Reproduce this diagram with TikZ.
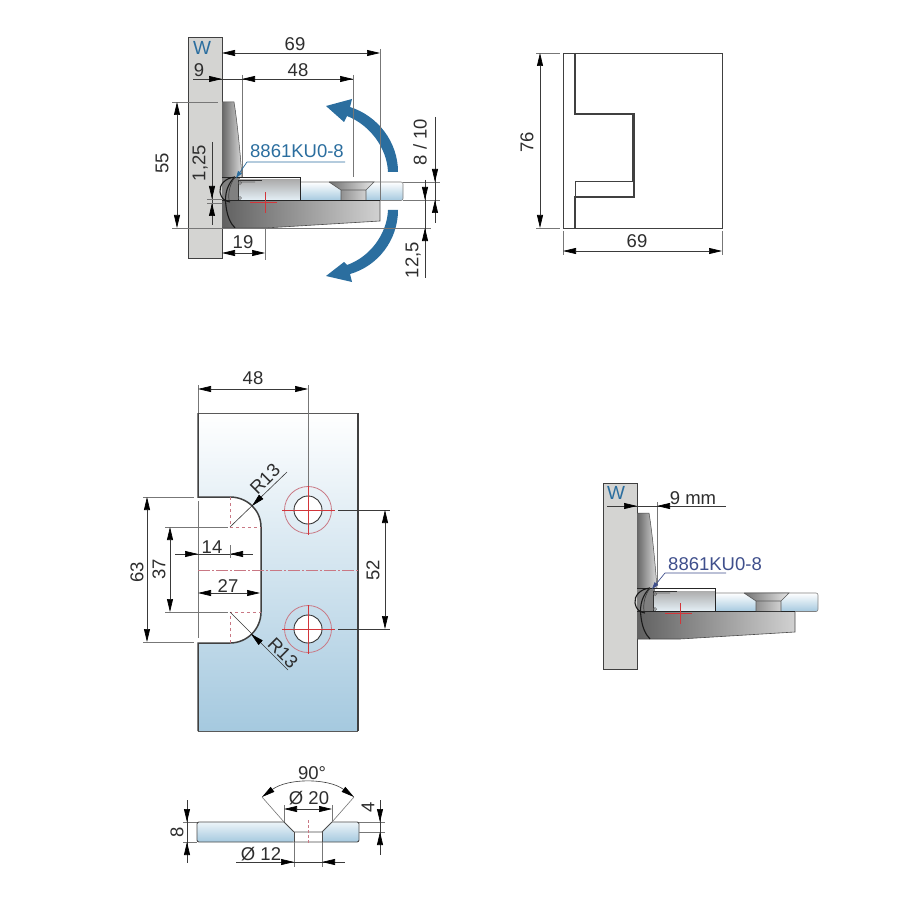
\documentclass[tikz,border=0pt]{standalone}
\usepackage{fontspec}
\setmainfont{Liberation Sans}
\usetikzlibrary{arrows.meta}
\definecolor{inkc}{HTML}{2E2E2E}
\definecolor{dimc}{HTML}{3A3A3A}
\definecolor{extc}{HTML}{777777}
\definecolor{arrowblue}{HTML}{2B6E9F}
\definecolor{codeblue}{HTML}{3F4F8C}
\definecolor{wallc}{HTML}{D4D4D2}
\definecolor{redc}{HTML}{D2363A}
\definecolor{pinkc}{HTML}{C97884}
\definecolor{iceb}{HTML}{A5C9DF}
\tikzset{
  tip/.tip={Stealth[length=13pt,width=6pt,inset=0pt,black]},
  dimline/.style={draw=dimc,line width=.6pt,{tip}-{tip}},
  rline/.style={draw=dimc,line width=.6pt,-{tip}},
  extline/.style={draw=extc,line width=.6pt},
  lbl/.style={text=inkc,inner sep=0pt,font=\fontsize{18.5}{21}\selectfont},
  codeA/.style={text=arrowblue,inner sep=0pt,font=\fontsize{18.5}{21}\selectfont},
  codeB/.style={text=codeblue,inner sep=0pt,font=\fontsize{18.5}{21}\selectfont},
  wlbl/.style={text=arrowblue,inner sep=0pt,font=\fontsize{19}{21}\selectfont},
  wallbox/.style={fill=wallc,draw=black!75,line width=.8pt},
  redthin/.style={draw=redc,line width=.6pt},
  pinkthin/.style={draw=pinkc,line width=.8pt},
  bracket/.pic={
    % upper wall leaf
    \shade[left color=black!60,right color=black!14]
      (222,102) -- (234,102) .. controls (237,120) and (240,150) .. (242,177) -- (222,177) -- cycle;
    \draw[black!70,line width=.5pt] (222,102) -- (234,102) .. controls (237,120) and (240,150) .. (242,177);
    % lower body
    \shade[left color=black!62,right color=black!18]
      (222,200) -- (380,200) -- (380,221) -- (265,228) -- (222,228) -- cycle;
    \draw[black!70,line width=.6pt] (380,200) -- (380,221) -- (265,228) -- (222,228);
    \fill[black!50] (222,177) rectangle (240,200);
    % glass
    \shade[top color=white,bottom color=iceb,rounded corners=2pt]
      (240,182) rectangle (403,200.5);
    \draw[black!50,line width=.6pt,rounded corners=2pt] (240,182) rectangle (403,200.5);
    % clamp
    \shade[top color=black!32,bottom color=white!70!iceb] (239,180) rectangle (300,200);
    \draw[black!85,line width=.9pt] (222,177.5) -- (300,177.5) -- (300,200);
    \draw[black!85,line width=1.1pt] (222,200.5) -- (380,200.5);
    \draw[black!80,line width=.8pt] (262,180.5) -- (238,180.5) -- (238,200);
    \draw[black!60,line width=.7pt] (255,182) -- (240,182) (240,183) circle (1.5) (240,198) circle (1.5);
    % screw
    \shade[left color=black!55,right color=black!10]
      (329,182) -- (374,182) -- (366,190) -- (366,200) -- (341,200) -- (341,190) -- cycle;
    \draw[black!65,line width=.6pt] (329,182) -- (374,182) -- (366,190) -- (366,200) (329,182) -- (341,190) -- (341,200) (341,190) -- (366,190);
    % hinge
    \draw[black!90,line width=1.1pt] (235,177) .. controls (225,178) and (219,185) .. (220,192) .. controls (221,198) and (224,201) .. (230,202);
    \draw[black!90,line width=1.1pt] (235,177) .. controls (228,183) and (224,194) .. (226,206) .. controls (227,215) and (230,223) .. (235,228);
    \draw[black!75,line width=.7pt] (235,177) .. controls (230,184) and (228,192) .. (229,200);
    % centre mark
    \draw[redthin] (250,202) -- (277,202) (265,192) -- (265,213);
  }
}
\begin{document}
\begin{tikzpicture}[x=1pt,y=-1pt]
\useasboundingbox (0,0) rectangle (900,901);
\fill[white] (0,0) rectangle (900,901);

% ---------- top left ----------
\draw[wallbox] (188,37) rectangle (222,258);
\pic at (0,0) {bracket};
\node[wlbl] (w1) at (202,48) {W};
% blue arrows
\fill[arrowblue] (398,172) .. controls (398,142) and (378,116) .. (350,107) -- (352,99) -- (326,106) -- (344,122) -- (347,116) .. controls (370,125) and (387,148) .. (388,172) -- cycle;
\fill[arrowblue] (398,210) .. controls (398,240) and (378,266) .. (350,274) -- (352,282) -- (326,276) -- (344,262) -- (347,265) .. controls (370,257) and (387,234) .. (388,210) -- cycle;
% dims
\draw[extline] (380,49) -- (380,200);
\draw[dimline] (222,53) -- (380,53);
\node[lbl] (d69a) at (295,44) {69};
\draw[extline] (242,75) -- (242,177);
\draw[extline] (353,75) -- (353,177);
\draw[dimc,line width=.6pt] (193,79) -- (353,79);
\draw[rline] (205,79) -- (222,79);
\draw[rline] (260,79) -- (242,79);
\draw[rline] (335,79) -- (353,79);
\node[lbl] (d9a) at (199,70) {9};
\node[lbl] (d48a) at (298,70) {48};
\draw[extline] (172,102) -- (218,102);
\draw[extline] (172,228) -- (222,228);
\draw[dimline] (177,102) -- (177,228);
\node[lbl,rotate=90] (d55) at (162,163) {55};
\draw[dimc,line width=.6pt] (212,142) -- (212,225);
\draw[rline] (212,186) -- (212,199);
\draw[rline] (212,216) -- (212,203);
\draw[extline] (207,199) -- (222,199);
\draw[extline] (207,203) -- (222,203);
\node[lbl,rotate=90] (d125) at (200,163) {1,25};
\draw[extline] (265,228) -- (265,260);
\draw[dimline] (222,253) -- (265,253);
\node[lbl] (d19) at (243,242) {19};
\draw[extline] (403,182) -- (440,182);
\draw[extline] (403,200) -- (440,200);
\draw[extline] (222,228) -- (431,228);
\draw[dimc,line width=.6pt] (435,117) -- (435,223);
\draw[rline] (435,168) -- (435,182);
\draw[rline] (435,214) -- (435,200);
\node[lbl,rotate=90] (d810) at (420,142) {8 / 10};
\draw[dimc,line width=.6pt] (425,180) -- (425,278);
\draw[rline] (425,186) -- (425,200);
\draw[rline] (425,242) -- (425,228);
\node[lbl,rotate=90] (d125b) at (413,260) {12,5};
\node[codeA] (codea) at (297,151) {8861KU0-8};
\draw[arrowblue,line width=.7pt,-{Stealth[length=7pt,width=4.5pt,inset=0pt]}] (345,162) -- (247,162) -- (236,178);

% ---------- top right ----------
\draw[black!75,line width=.9pt] (563,53) rectangle (722,228);
\draw[black!75,line width=1.1pt] (575,53) -- (575,114) -- (634,114) -- (634,197) -- (575,197) -- (575,228);
\draw[black!75,line width=.8pt] (575,197) -- (575,181) -- (632,181) -- (632,114);
\draw[extline] (536,53) -- (560,53);
\draw[extline] (536,228) -- (560,228);
\draw[dimline] (540,53) -- (540,228);
\node[lbl,rotate=90] (d76) at (527,142) {76};
\draw[extline] (563,231) -- (563,255);
\draw[extline] (722,231) -- (722,255);
\draw[dimline] (563,251) -- (722,251);
\node[lbl] (d69b) at (637,241) {69};

% ---------- plate ----------
\shade[top color=white,bottom color=iceb]
  (198,413) -- (358,413) -- (358,731) -- (198,731) -- (198,643) -- (230,643)
  .. controls (247,643) and (261,629) .. (261,612) -- (261,527)
  .. controls (261,510) and (247,497) .. (230,497) -- (198,497) -- cycle;
\draw[black!65,line width=.8pt] (198,413) -- (358,413) (198,731) -- (358,731);
\draw[black!75,line width=1.5pt] (198,413) -- (198,497) -- (230,497)
  .. controls (247,497) and (261,510) .. (261,527) -- (261,612)
  .. controls (261,629) and (247,643) .. (230,643) -- (198,643) -- (198,731);
\draw[black!75,line width=1.5pt] (358,413) -- (358,731);
\draw[extline] (198,501) -- (198,638);
\draw[pinkthin,dash pattern=on 12pt off 2pt on 2pt off 2pt] (198,570) -- (358,570);
\draw[pinkthin,dashed] (230,497) -- (230,527) -- (261,527);
\draw[pinkthin,dashed] (230,643) -- (230,612) -- (261,612);
\foreach \cy/\nm in {510/a,629/b}{
  \fill[white] (308,\cy) circle (14);
  \draw[black!80,line width=.9pt] (308,\cy) circle (14);
  \draw[pinkthin] (308,\cy) circle (23.5);
  \draw[redthin] (282,\cy) -- (335,\cy) (308,\cy-24) -- (308,\cy+25);
}
\draw[extline] (198,385) -- (198,413);
\draw[extline] (308,385) -- (308,486);
\draw[dimline] (198,389) -- (308,389);
\node[lbl] (d48b) at (253,378) {48};
\draw[extline,draw=dimc] (338,510) -- (390,510);
\draw[extline,draw=dimc] (338,629) -- (390,629);
\draw[dimline] (385,510) -- (385,629);
\node[lbl,rotate=90] (d52) at (373,570) {52};
\draw[extline] (143,497) -- (194,497);
\draw[extline] (143,642) -- (194,642);
\draw[dimline] (147,497) -- (147,642);
\node[lbl,rotate=90] (d63) at (137,572) {63};
\draw[extline] (165,527) -- (228,527);
\draw[extline] (165,612) -- (228,612);
\draw[dimline] (170,527) -- (170,612);
\node[lbl,rotate=90] (d37) at (159,569) {37};
\draw[dimc,line width=.6pt] (175,554) -- (253,554);
\draw[rline] (184,554) -- (198,554);
\draw[rline] (244,554) -- (230,554);
\draw[extline] (230,545) -- (230,558);
\node[lbl] (d14) at (212,547) {14};
\draw[dimline] (198,593) -- (260,593);
\node[lbl] (d27) at (228,586) {27};
\draw[dimc,line width=.6pt] (230,527) -- (287,472);
\draw[rline] (261,497) -- (252,506);
\node[lbl,rotate=45] (r13a) at (265,479) {R13};
\draw[dimc,line width=.6pt] (230,612) -- (288,670);
\draw[rline] (261,643) -- (251,634);
\node[lbl,rotate=-45] (r13b) at (283,653) {R13};

% ---------- lower right ----------
\draw[wallbox] (603,483) rectangle (637,669);
\pic at (415,411) {bracket};
\node[wlbl] (w2) at (616,493) {W};
\draw[extline] (657,502) -- (657,585);
\draw[dimc,line width=.6pt] (607,506) -- (726,506);
\draw[rline] (623,506) -- (637,506);
\draw[rline] (671,506) -- (657,506);
\node[lbl] (d9mm) at (693,498) {9 mm};
\node[codeB] (codeb) at (715,564) {8861KU0-8};
\draw[codeblue,line width=.7pt,-{Stealth[length=7pt,width=4.5pt,inset=0pt]}] (726,573) -- (665,573) -- (652,589);

% ---------- disc ----------
\shade[top color=white!80!iceb,bottom color=iceb,rounded corners=2pt]
  (197,822) -- (284,822) -- (294,832) -- (294,842) -- (197,842) -- cycle;
\shade[top color=white!80!iceb,bottom color=iceb,rounded corners=2pt]
  (332,822) -- (359,822) -- (359,842) -- (322,842) -- (322,832) -- cycle;
\draw[black!70,line width=.9pt,rounded corners=2pt]
  (284,822) -- (197,822) -- (197,842) -- (359,842) -- (359,822) -- (332,822);
\draw[black!70,line width=.9pt] (284,822) -- (294,832) -- (322,832) -- (332,822);
\draw[black!70,line width=.9pt] (294,832) -- (294,842) (322,832) -- (322,842);
\draw[pinkthin,densely dashed] (308,820) -- (308,844);
\draw[extline] (262,797) -- (284,822);
\draw[extline] (354,797) -- (332,822);
\draw[dimc,line width=.6pt,{tip}-{tip}] (262,797) .. controls (288,778) and (328,778) .. (354,797);
\node[lbl] (d90) at (312,773) {90°};
\draw[extline] (284,805) -- (284,822);
\draw[extline] (332,805) -- (332,822);
\draw[dimline] (284,809) -- (332,809);
\node[lbl] (d20) at (309,798) {Ø 20};
\draw[extline] (294,842) -- (294,867);
\draw[extline] (322,842) -- (322,867);
\draw[dimc,line width=.6pt] (236,862) -- (345,862);
\draw[rline] (280,862) -- (294,862);
\draw[rline] (336,862) -- (322,862);
\node[lbl] (d12) at (261,854) {Ø 12};
\draw[extline] (183,822) -- (197,822);
\draw[extline] (183,842) -- (197,842);
\draw[dimc,line width=.6pt] (187,800) -- (187,863);
\draw[rline] (187,808) -- (187,822);
\draw[rline] (187,856) -- (187,842);
\node[lbl,rotate=90] (d8) at (177,832) {8};
\draw[extline] (359,822) -- (385,822);
\draw[extline] (359,832) -- (385,832);
\draw[dimc,line width=.6pt] (380,800) -- (380,855);
\draw[rline] (380,808) -- (380,822);
\draw[rline] (380,846) -- (380,832);
\node[lbl,rotate=90] (d4) at (368,807) {4};
\end{tikzpicture}
\end{document}
